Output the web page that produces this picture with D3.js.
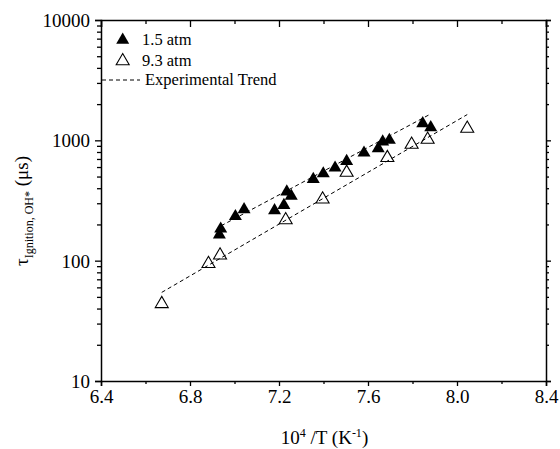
<!DOCTYPE html>
<meta charset="utf-8">
<script src="https://d3js.org/d3.v7.min.js"></script>
<style>
  body { margin: 0; background: #fff; }
  text { font-family: "Liberation Serif", "Times New Roman", serif; fill: #000; }
</style>
<body>
<div id="chart"></div>
<script>

	// 1.5 atm (filled triangles)
	var lowP_x = [6.932, 6.938, 7.004, 7.043, 7.180, 7.222, 7.235, 7.255, 7.354, 7.399, 7.452, 7.504, 7.582, 7.646, 7.666, 7.696, 7.846, 7.882];
	var lowP_y = [169, 189, 240, 274, 269, 297, 385, 355, 489, 544, 607, 690, 809, 879, 1000, 1033, 1421, 1316];
	// 9.3 atm (open triangles)
	var highP_x = [6.673, 6.883, 6.935, 7.230, 7.396, 7.504, 7.687, 7.796, 7.868, 8.046];
	var highP_y = [45, 97, 114, 224, 333, 555, 736, 950, 1045, 1291];
	// experimental trend lines (end points)
	var trendLow_x = [6.94, 7.88];
	var trendLow_y = [195, 1650];
	var trendHigh_x = [6.673, 8.046];
	var trendHigh_y = [54.5, 1637];

	var xTicks = [6.4, 6.8, 7.2, 7.6, 8.0, 8.4];
	var xMinor = [6.6, 7.0, 7.4, 7.8, 8.2];
	var yTicks = [10, 100, 1000, 10000];
	var legendLabels = ["1.5 atm", "9.3 atm", "Experimental Trend"];

	var W = 560, H = 449;
	var margin = {top: 20, right: 14, bottom: 68, left: 101};
	var width = W - margin.left - margin.right;
	var height = H - margin.top - margin.bottom;

	var svg = d3.select("#chart").append("svg")
		.attr("width", W)
		.attr("height", H);

	var g = svg.append("g")
		.attr("transform", "translate(" + margin.left + "," + margin.top + ")");

	var x = d3.scaleLinear().domain([6.4, 8.4]).range([0, width]);
	var y = d3.scaleLog().domain([10, 10000]).range([height, 0]);

	// minor ticks of log axis: 2..9 of each decade
	var yMinor = [];
	yTicks.slice(0, -1).forEach(function(d) {
		for (var k = 2; k <= 9; k++) yMinor.push(d * k);
	});

	// bottom axis
	var bottom = g.append("g").attr("transform", "translate(0," + height + ")");
	bottom.call(d3.axisBottom(x).tickValues(xTicks).tickSize(5).tickFormat(d3.format(".1f")));
	g.append("g").attr("transform", "translate(0," + height + ")")
		.call(d3.axisBottom(x).tickValues(xMinor).tickSize(3).tickFormat(""))
		.select(".domain").remove();

	// top axis (ticks inward)
	g.append("g")
		.call(d3.axisBottom(x).tickValues(xTicks).tickSize(7).tickFormat(""));
	g.append("g")
		.call(d3.axisBottom(x).tickValues(xMinor).tickSize(4).tickFormat(""))
		.select(".domain").remove();

	// left axis
	var left = g.append("g")
		.call(d3.axisLeft(y).tickValues(yTicks).tickSize(6).tickFormat(d3.format("d")));
	g.append("g")
		.call(d3.axisLeft(y).tickValues(yMinor).tickSize(4).tickFormat(""))
		.select(".domain").remove();

	// right axis
	g.append("g").attr("transform", "translate(" + width + ",0)")
		.call(d3.axisRight(y).tickValues(yTicks).tickSize(5).tickFormat(""));
	g.append("g").attr("transform", "translate(" + width + ",0)")
		.call(d3.axisRight(y).tickValues(yMinor).tickSize(3).tickFormat(""))
		.select(".domain").remove();

	g.selectAll(".domain").attr("stroke", "#000").attr("stroke-width", 1.5);
	g.selectAll(".tick line").attr("stroke", "#000").attr("stroke-width", 1.3);
	g.selectAll(".tick text")
		.style("font-family", '"Liberation Serif", serif')
		.style("font-size", "19px")
		.attr("fill", "#000");
	bottom.selectAll(".tick text").attr("y", 9).attr("dy", "0.71em");
	left.selectAll(".tick text").attr("x", -11).attr("dy", "0.34em");

	// trend lines
	var line = d3.line()
		.x(function(d){ return x(d[0]); })
		.y(function(d){ return y(d[1]); });

	[[trendLow_x, trendLow_y], [trendHigh_x, trendHigh_y]].forEach(function(t) {
		g.append("path")
			.datum(d3.zip(t[0], t[1]))
			.attr("d", line)
			.attr("fill", "none")
			.attr("stroke", "#000")
			.attr("stroke-width", 1)
			.attr("stroke-dasharray", "4,3");
	});

	// triangle marker
	function tri(cx, cy) {
		return "M" + cx + "," + (cy - 6) + "L" + (cx + 6.5) + "," + (cy + 5.2) + "L" + (cx - 6.5) + "," + (cy + 5.2) + "Z";
	}

	g.selectAll(".filled")
		.data(d3.zip(lowP_x, lowP_y))
		.enter().append("path")
		.attr("class", "filled")
		.attr("d", function(d){ return tri(x(d[0]), y(d[1])); })
		.attr("fill", "#000");

	g.selectAll(".open")
		.data(d3.zip(highP_x, highP_y))
		.enter().append("path")
		.attr("class", "open")
		.attr("d", function(d){ return tri(x(d[0]), y(d[1])); })
		.attr("fill", "none")
		.attr("stroke", "#000")
		.attr("stroke-width", 1.1);

	// legend
	var leg = svg.append("g");
	leg.append("path").attr("d", tri(122.7, 38.5)).attr("fill", "#000");
	leg.append("path").attr("d", tri(122.7, 59.5)).attr("fill", "none").attr("stroke", "#000").attr("stroke-width", 1.1);
	leg.append("line")
		.attr("x1", 102).attr("x2", 140).attr("y1", 80).attr("y2", 80)
		.attr("stroke", "#000").attr("stroke-width", 1).attr("stroke-dasharray", "4,3");
	leg.selectAll("text")
		.data(legendLabels)
		.enter().append("text")
		.attr("x", function(d, i){ return i < 2 ? 142 : 145; })
		.attr("y", function(d, i){ return [45, 65.5, 85][i]; })
		.style("font-size", "16.5px")
		.text(function(d){ return d; });

	// x title
	var xt = svg.append("text")
		.attr("x", margin.left + width / 2 + 1)
		.attr("y", 444)
		.attr("text-anchor", "middle")
		.style("font-size", "19px");
	xt.append("tspan").text("10");
	xt.append("tspan").attr("dy", -7).style("font-size", "12px").text("4");
	xt.append("tspan").attr("dy", 7).text(" /T (K");
	xt.append("tspan").attr("dy", -7).style("font-size", "12px").text("-1");
	xt.append("tspan").attr("dy", 7).text(")");

	// y title
	var yt = svg.append("text")
		.attr("transform", "translate(28,211) rotate(-90)")
		.attr("text-anchor", "middle")
		.style("font-size", "19px");
	yt.append("tspan").text("\u03c4");
	yt.append("tspan").attr("dy", 5).style("font-size", "12px").text("Ignition, OH*");
	yt.append("tspan").attr("dy", -5).text(" (\u03bcs)");

</script>
</body>
